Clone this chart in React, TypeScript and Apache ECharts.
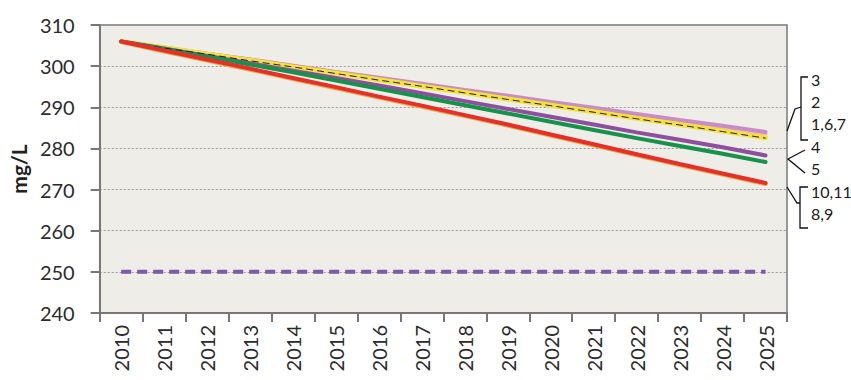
import React, { useEffect, useRef } from "react";
import * as echarts from "echarts";

const years = ["2010","2011","2012","2013","2014","2015","2016","2017","2018","2019","2020","2021","2022","2023","2024","2025"];
const yTicks = [240, 250, 260, 270, 280, 290, 300, 310];

const s2 = [306.0, 304.5, 303.0, 301.5, 300.0, 298.5, 297.0, 295.5, 294.0, 292.6, 291.1, 289.6, 288.1, 286.6, 285.1, 283.6];
const s3 = [306.0, 304.5, 303.0, 301.6, 300.1, 298.6, 297.2, 295.7, 294.2, 292.8, 291.3, 289.9, 288.4, 286.9, 285.5, 284.0];
const s1 = [306.0, 304.5, 302.9, 301.4, 299.8, 298.3, 296.7, 295.1, 293.6, 292.0, 290.5, 288.9, 287.3, 285.8, 284.2, 282.6];
const s6 = [306.0, 304.4, 302.9, 301.3, 299.8, 298.2, 296.6, 295.1, 293.5, 291.9, 290.4, 288.8, 287.2, 285.7, 284.1, 282.5];
const s4 = [306.0, 304.3, 302.5, 300.7, 298.9, 297.1, 295.3, 293.4, 291.5, 289.6, 287.7, 285.8, 283.9, 282.1, 280.3, 278.3];
const s5 = [306.0, 304.2, 302.3, 300.4, 298.5, 296.5, 294.5, 292.5, 290.5, 288.5, 286.5, 284.5, 282.5, 280.6, 278.7, 276.7];
const s8 = [305.9, 303.6, 301.4, 299.2, 296.9, 294.7, 292.4, 290.2, 287.9, 285.6, 283.2, 280.8, 278.4, 276.0, 273.7, 271.4];
const s10 = [306.0, 303.8, 301.6, 299.4, 297.1, 294.9, 292.6, 290.4, 288.1, 285.8, 283.4, 281.0, 278.6, 276.2, 273.9, 271.6];
const standard = [250, 250, 250, 250, 250, 250, 250, 250, 250, 250, 250, 250, 250, 250, 250, 250];

const labelTexts = ["3", "2", "1,6,7", "4", "5", "10,11", "8,9"];
const labelYs = [81, 103, 125, 148, 170, 193, 215];

const FONT = "Lato, 'Open Sans', sans-serif";

export default function App() {
  const ref = useRef<HTMLDivElement>(null);
  useEffect(() => {
    document.body.style.margin = "0";
    if (!ref.current) return;
    const chart = echarts.init(ref.current, null, { renderer: "svg" });
    const line = (name: string, data: number[], color: string, width: number, extra: any = {}) => ({
      name,
      type: "line",
      data,
      symbol: "none",
      smooth: false,
      lineStyle: { color, width, cap: "round", ...(extra.lineStyle || {}) },
      z: extra.z ?? 2,
      silent: true,
    });
    const textEls = labelTexts.map((t, i) => ({
      type: "text",
      left: 811,
      top: labelYs[i] - 10,
      style: { text: t, font: `16px ${FONT}`, fill: "#1a1a1a" },
    }));
    const stroke = { stroke: "#111", lineWidth: 1.3, fill: "none" };
    chart.setOption({
      animation: false,
      backgroundColor: "#ffffff",
      grid: {
        left: 96,
        right: 64,
        top: 25,
        bottom: 67,
        show: true,
        backgroundColor: "#EFEDE7",
        borderColor: "#7a7a7a",
        borderWidth: 1.5,
      },
      xAxis: {
        type: "category",
        data: years,
        boundaryGap: true,
        axisLine: { lineStyle: { color: "#777", width: 2 } },
        axisTick: { show: true, length: 9, lineStyle: { color: "#777", width: 2 } },
        axisLabel: { rotate: 90, fontFamily: FONT, fontSize: 20, color: "#2b2b2b", margin: 12 },
        splitLine: { show: false },
      },
      yAxis: {
        type: "value",
        min: 240,
        max: 310,
        interval: 10,
        name: "mg/L",
        nameLocation: "middle",
        nameGap: 64,
        nameRotate: 90,
        nameTextStyle: { fontFamily: FONT, fontSize: 21, fontWeight: "bold", color: "#222" },
        axisLine: { show: true, lineStyle: { color: "#777", width: 2 } },
        axisTick: { show: true, length: 9, lineStyle: { color: "#777", width: 2 } },
        axisLabel: {
          fontFamily: FONT, fontSize: 20, color: "#2b2b2b", margin: 25,
          formatter: (v: number) => (yTicks.includes(v) ? String(v) : ""),
        },
        splitLine: { show: true, lineStyle: { color: "#9a9a9a", width: 1, type: [2, 2] } },
      },
      series: [
        line("standard", standard, "#7C5AA8", 4, { lineStyle: { type: [10, 6], cap: "butt" } }),
        line("2", s2, "#F2B3C6", 4),
        line("3", s3, "#C98CC4", 4),
        line("1,6,7", s1, "#F4E13A", 5),
        line("6", s6, "#222222", 1, { lineStyle: { type: [7, 4], cap: "butt" }, z: 3 }),
        line("4", s4, "#8E4F9E", 4),
        line("5", s5, "#17924B", 4),
        line("8,9", s8, "#F6A23A", 4.5),
        line("10,11", s10, "#E3302A", 4, { z: 4 }),
      ],
      graphic: [
        { type: "polyline", shape: { points: [[808, 77], [801, 77], [801, 140], [808, 140]] }, style: stroke },
        { type: "polyline", shape: { points: [[787, 131], [795, 109], [801, 107]] }, style: stroke },
        { type: "polyline", shape: { points: [[805, 150], [788, 159], [805, 173]] }, style: stroke },
        { type: "polyline", shape: { points: [[808, 187], [800, 187], [800, 228], [808, 228]] }, style: stroke },
        { type: "polyline", shape: { points: [[787, 187], [797, 203], [800, 203]] }, style: stroke },
        ...textEls,
      ],
    });
    return () => chart.dispose();
  }, []);
  return <div ref={ref} style={{ width: 851, height: 380 }} />;
}
